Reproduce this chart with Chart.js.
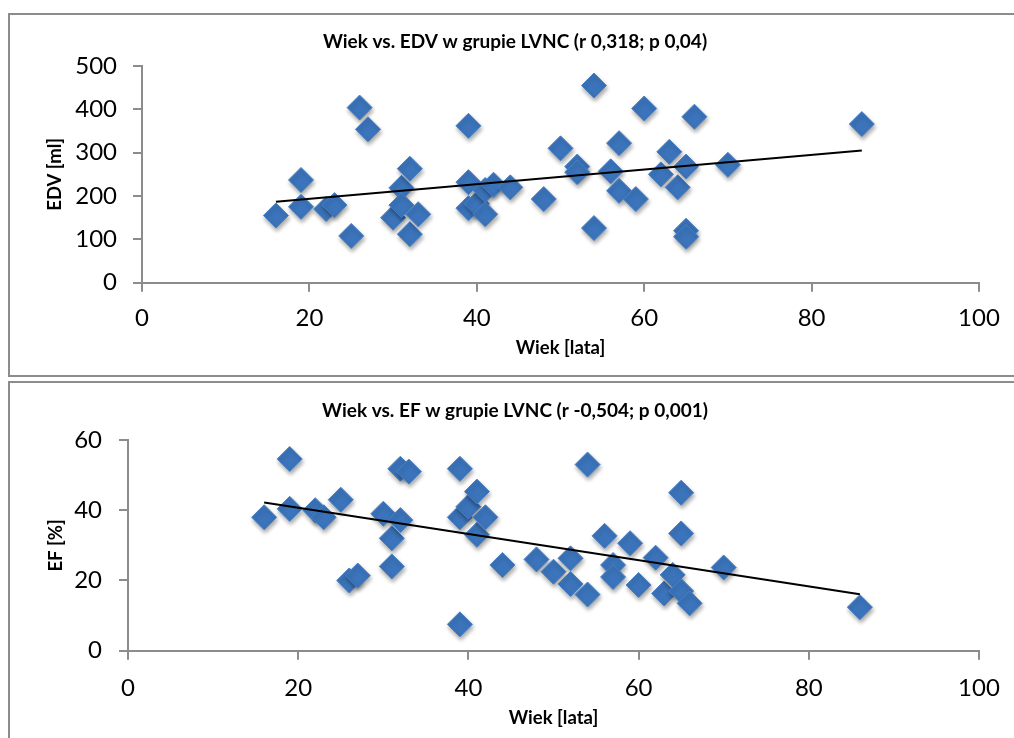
<!DOCTYPE html>
<html>
<head>
<meta charset="utf-8">
<script src="https://cdn.jsdelivr.net/npm/chart.js@4"></script>
<style>
  html, body { margin: 0; padding: 0; background: #fff; overflow: hidden; width: 1014px; height: 738px; }
  .panel { position: absolute; left: 8px; width: 1040px; border: 2px solid #8c8c8c; box-sizing: border-box; }
  #p1 { top: 13px; height: 364px; }
  #p2 { top: 381px; height: 400px; }
  .wrap { position: absolute; left: 0; width: 1030px; }
  #w1 { top: 0; height: 378px; }
  #w2 { top: 378px; height: 360px; }
</style>
</head>
<body>
<div class="panel" id="p1"></div>
<div class="panel" id="p2"></div>
<div class="wrap" id="w1"><canvas id="edv"></canvas></div>
<div class="wrap" id="w2"><canvas id="ef"></canvas></div>
<script>
// Data
const edvAge = [16, 19, 19, 22, 23, 25, 26, 27, 30, 31, 31, 32, 32, 33, 39, 39, 39, 40, 41, 41, 42, 44,
  48, 50, 52, 52, 54, 54, 56, 57, 57, 59, 60, 62, 63, 64, 65, 65, 65, 66, 70, 86];
const edvValues = [155, 237, 175, 170, 179, 108, 404, 354, 150, 219, 179, 263, 112, 158, 362, 232, 172, 182, 214, 158, 226, 220,
  193, 310, 268, 255, 455, 126, 257, 322, 212, 193, 402, 250, 302, 220, 268, 120, 106, 383, 272, 366];
const edvTrendX = [16, 86];
const edvTrendY = [187, 305];

const efAge = [16, 19, 19, 22, 23, 25, 26, 27, 30, 31, 31, 32, 32, 33, 39, 39, 39, 40, 41, 41, 42, 44,
  48, 50, 52, 52, 54, 54, 56, 57, 57, 59, 60, 62, 63, 64, 65, 65, 65, 66, 70, 86];
const efValues = [38, 54.6, 40.4, 40, 38, 43, 20, 21.4, 39, 32, 24, 51.8, 37.2, 51, 51.8, 38, 7.5, 41, 45.3, 33, 38, 24.4,
  26, 22.5, 26.3, 19, 53, 16, 32.7, 24.4, 21, 30.6, 18.7, 26.5, 16.3, 21.6, 45, 33.4, 17, 13.5, 23.7, 12.4];
const efTrendX = [16, 86];
const efTrendY = [42.2, 16.1];

const xTicks = [0, 20, 40, 60, 80, 100];

// Helpers
const toPoints = (xs, ys) => xs.map((x, i) => ({ x: x, y: ys[i] }));

const markShadow = {
  id: 'markShadow',
  beforeDatasetDraw(chart, args) {
    if (!chart.data.datasets[args.index].shadow) return;
    const ctx = chart.ctx;
    ctx.save();
    ctx.shadowColor = 'rgba(0,0,0,0.35)';
    ctx.shadowBlur = 4;
    ctx.shadowOffsetY = 3;
    ctx.shadowOffsetX = 1;
  },
  afterDatasetDraw(chart, args) {
    if (!chart.data.datasets[args.index].shadow) return;
    chart.ctx.restore();
  }
};

const axisLook = {
  grid: { drawOnChartArea: false, drawTicks: true, tickLength: 9, color: '#8c8c8c', lineWidth: 2 },
  border: { display: true, color: '#8c8c8c', width: 2 }
};

const renderScatter = (id, o) => {
  const ctx = document.getElementById(id);
  new Chart(ctx, {
    type: 'scatter',
    data: {
      datasets: [{
        data: toPoints(o.trendX, o.trendY),
        showLine: true,
        pointRadius: 0,
        borderColor: '#000',
        borderWidth: 2
      }, {
        data: toPoints(o.xs, o.ys),
        shadow: true,
        pointStyle: 'rectRot',
        pointRadius: 12.5,
        pointHoverRadius: 12.5,
        backgroundColor: '#3b74bb',
        borderColor: '#4a80c3',
        borderWidth: 1
      }]
    },
    plugins: [markShadow],
    options: {
      responsive: true,
      maintainAspectRatio: false,
      animation: false,
      events: [],
      // left pad keeps the chart title centred on the whole panel
      layout: { padding: { left: 51, right: 51, top: 0, bottom: 0 } },
      plugins: {
        legend: { display: false },
        tooltip: { enabled: false },
        title: {
          display: true,
          text: o.title,
          color: '#000',
          font: { family: 'Lato', size: 19, weight: 'bold' },
          padding: o.titlePad
        }
      },
      scales: {
        x: {
          ...axisLook,
          min: 0, max: 100,
          afterBuildTicks: (s) => { s.ticks = xTicks.map(v => ({ value: v })); },
          afterFit: (s) => { s.height = o.xHeight; },
          ticks: { color: '#000', font: { family: 'Lato', size: 24 }, padding: o.xTickPad },
          title: {
            display: true, text: 'Wiek [lata]', color: '#000',
            font: { family: 'Lato', size: 18.5, weight: 'bold' },
            padding: { top: 0, bottom: o.xTitlePad }
          }
        },
        y: {
          ...axisLook,
          min: 0, max: o.yMax,
          afterBuildTicks: (s) => { s.ticks = o.yTicks.map(v => ({ value: v })); },
          afterFit: (s) => { s.width = o.yWidth; },
          ticks: { color: '#000', font: { family: 'Lato', size: 24 }, padding: o.yTickPad },
          title: {
            display: true, text: o.yTitle, color: '#000',
            font: { family: 'Lato', size: 18.5, weight: 'bold' },
            padding: { top: o.yTitlePad, bottom: 0 }
          }
        }
      }
    }
  });
};

// Main
renderScatter('edv', {
  title: 'Wiek vs. EDV w grupie LVNC (r 0,318; p 0,04)',
  xs: edvAge, ys: edvValues, trendX: edvTrendX, trendY: edvTrendY,
  yMax: 500, yTicks: [0, 100, 200, 300, 400, 500], yTitle: 'EDV [ml]',
  titlePad: { top: 30.6, bottom: 12.6 },
  xHeight: 95.3, xTickPad: 12, xTitlePad: 18.9,
  yWidth: 91, yTickPad: 16, yTitlePad: -7.1
});

renderScatter('ef', {
  title: 'Wiek vs. EF w grupie LVNC (r -0,504; p 0,001)',
  xs: efAge, ys: efValues, trendX: efTrendX, trendY: efTrendY,
  yMax: 60, yTicks: [0, 20, 40, 60], yTitle: 'EF [%]',
  titlePad: { top: 21.6, bottom: 17.6 },
  xHeight: 87.3, xTickPad: 14, xTitlePad: 8.9,
  yWidth: 77, yTickPad: 17, yTitlePad: -6.1
});
</script>
</body>
</html>
